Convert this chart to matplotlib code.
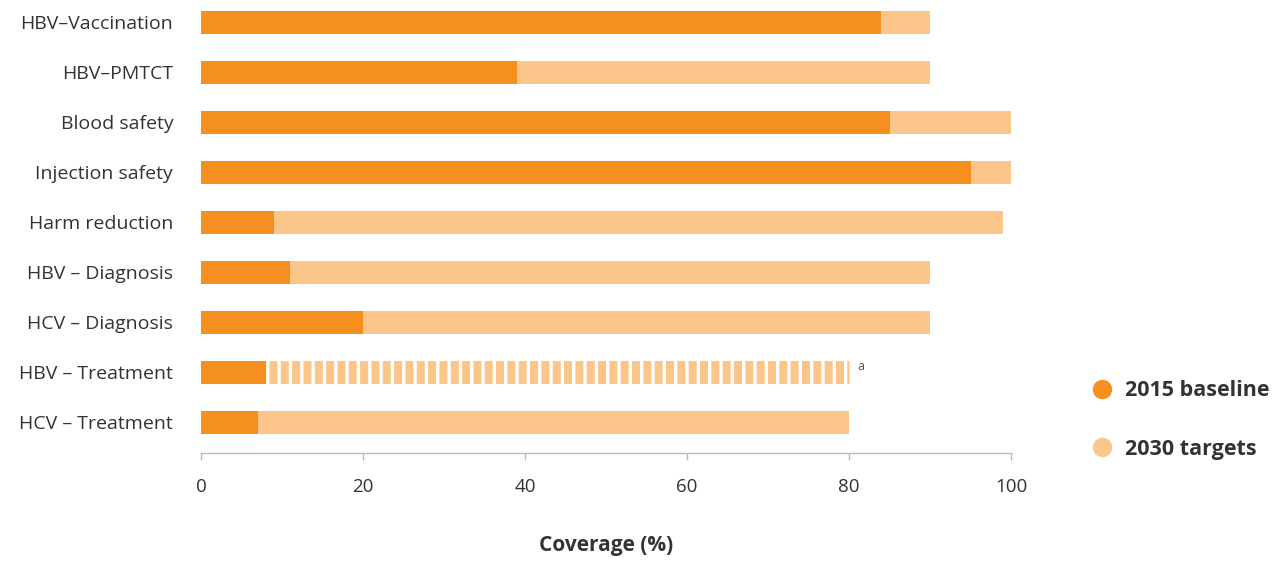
import matplotlib
matplotlib.use("Agg")
import matplotlib.pyplot as plt
from matplotlib.lines import Line2D

categories = ["HBV–Vaccination", "HBV–PMTCT", "Blood safety", "Injection safety",
              "Harm reduction", "HBV – Diagnosis", "HCV – Diagnosis",
              "HBV – Treatment", "HCV – Treatment"]
baseline_2015 = [84, 39, 85, 95, 9, 11, 20, 8, 7]
targets_2030 = [90, 90, 100, 100, 99, 90, 90, 80, 80]
dashed_flags = [False, False, False, False, False, False, False, True, False]
x_ticks = [0, 20, 40, 60, 80, 100]

DARK = "#F58F20"
LIGHT = "#FCC58A"
TEXT = "#333333"
FONT = "Open Sans"

plt.rcParams["font.family"] = [FONT, "DejaVu Sans"]

fig = plt.figure(figsize=(12.76, 5.62), dpi=100)
ax = fig.add_axes([201/1276, (562-453)/562, 810/1276, 453/562])

bar_h = 0.46
dpi = 100
for i, (cat, b, t, d) in enumerate(zip(categories, baseline_2015, targets_2030, dashed_flags)):
    if d:
        lw_pt = bar_h * 50 * 72 / dpi
        ln = Line2D([0, t], [i, i], color=LIGHT, linewidth=lw_pt,
                    solid_capstyle="butt", dash_capstyle="butt")
        ln.set_dashes((8*72/dpi/lw_pt, 3.33*72/dpi/lw_pt))
        ln.set_dash_capstyle("butt")
        ax.add_line(ln)
        ax.barh(i, b, height=bar_h, color=DARK, zorder=3)
        ax.text(t + 1.5, i - 0.12, "a", fontsize=9, color="#555555", va="center", ha="center")
    else:
        ax.barh(i, t, height=bar_h, color=LIGHT, zorder=2)
        ax.barh(i, b, height=bar_h, color=DARK, zorder=3)

ax.set_xlim(0, 100)
ax.set_ylim(8.62, -0.44)
ax.set_yticks(range(len(categories)))
ax.set_yticklabels(categories, fontsize=14, color=TEXT)
ax.tick_params(axis="y", length=0, pad=20)
ax.set_xticks(x_ticks)
ax.set_xticklabels([str(v) for v in x_ticks], fontsize=13.5, color=TEXT)
ax.tick_params(axis="x", length=5, width=1, color="#bbbbbb", pad=13)
for s in ["top", "right", "left"]:
    ax.spines[s].set_visible(False)
ax.spines["bottom"].set_color("#bbbbbb")
ax.spines["bottom"].set_linewidth(1)
ax.set_xlabel("Coverage (%)", fontsize=15, fontweight="bold", color=TEXT, labelpad=28)

handles = [Line2D([], [], marker="o", linestyle="none", markersize=14, color=DARK, markeredgewidth=0),
           Line2D([], [], marker="o", linestyle="none", markersize=14, color=LIGHT, markeredgewidth=0)]
leg = fig.legend(handles, ["2015 baseline", "2030 targets"], loc="center left",
                 bbox_to_anchor=(1070/1276, 1 - 420/562), frameon=False,
                 prop={"size": 15.5, "weight": "bold"}, labelspacing=1.75,
                 handletextpad=0.45, handlelength=1.2)
for txt in leg.get_texts():
    txt.set_color(TEXT)

fig.savefig("out.png", dpi=100)
